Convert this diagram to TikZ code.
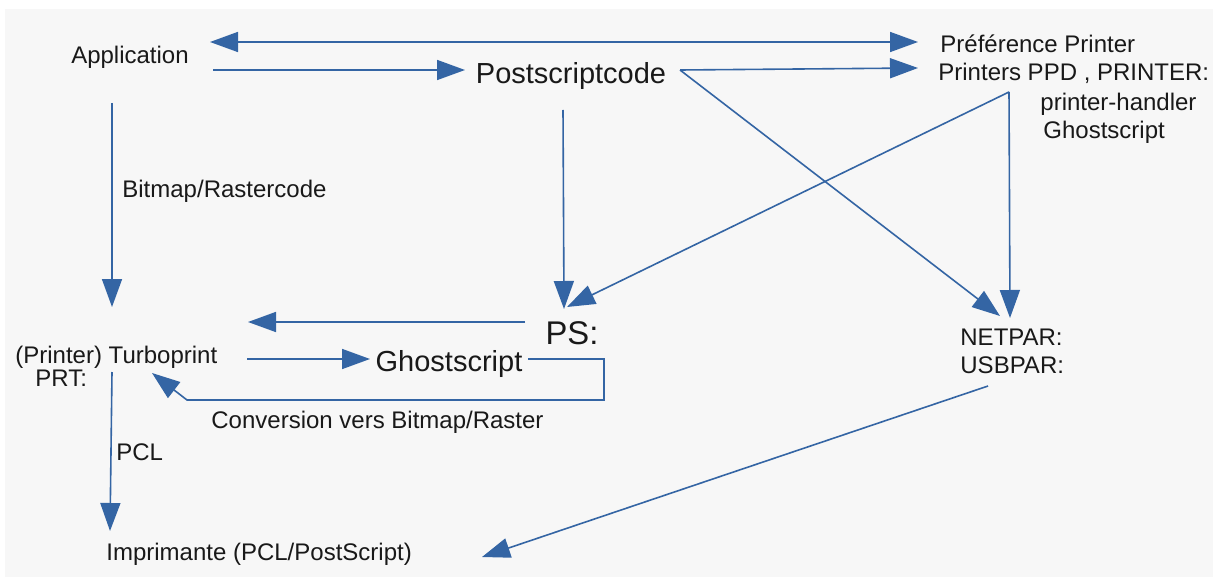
\documentclass[tikz,border=0pt]{standalone}
\usepackage{fontspec}
\setmainfont{Liberation Sans}
\usetikzlibrary{arrows.meta}
\definecolor{lnblue}{RGB}{52,101,164}
\definecolor{bggray}{RGB}{247,247,247}
\definecolor{txt}{RGB}{25,25,25}
\begin{document}
\begin{tikzpicture}[x=0.5pt,y=-0.5pt,
  lbl/.style={inner sep=0pt, text=txt, font=\fontsize{12}{14}\selectfont, text height=8.6pt, text depth=0pt},
  big/.style={lbl, font=\fontsize{14.5}{17}\selectfont, text height=10.4pt},
  bigger/.style={lbl, font=\fontsize{16.4}{19}\selectfont, text height=11.7pt},
  ln/.style={draw=lnblue, line width=0.8pt},
  arr/.style={ln, -{Triangle[length=14pt,width=10pt]}},
  darr/.style={ln, {Triangle[length=14pt,width=10pt]}-{Triangle[length=14pt,width=10pt]}}]
\fill[white] (0,0) rectangle (1213,577);
\fill[bggray] (5,9) rectangle (1213,577);
\useasboundingbox (0,0) rectangle (1213,577);

% nodes
\node[lbl] (app) at (130,55) {Application};
\node[lbl,anchor=west] (pref) at (940,44) {Préférence Printer};
\node[lbl,anchor=west] (ppd) at (938,72) {Printers PPD , PRINTER:};
\node[lbl,anchor=west] (hdl) at (1040,102) {printer-handler};
\node[lbl,anchor=west] (hdlgs) at (1043,130) {Ghostscript};
\node[big] (pscode) at (571,73) {Postscriptcode};
\node[lbl,anchor=west] (bmp) at (122,189) {Bitmap/Rastercode};
\node[bigger] (ps) at (572,333) {PS:};
\node[lbl,anchor=west] (turbo) at (15,355) {(Printer) Turboprint};
\node[lbl,anchor=west] (prt) at (35,378) {PRT:};
\node[big] (gs) at (449,361) {Ghostscript};
\node[lbl,anchor=west] (conv) at (211,420) {Conversion vers Bitmap/Raster};
\node[lbl,anchor=west] (pcl) at (116,452) {PCL};
\node[lbl,anchor=west] (impr) at (106,552) {Imprimante (PCL/PostScript)};
\node[lbl,anchor=west] (net) at (960,337) {NETPAR:};
\node[lbl,anchor=west] (usb) at (960,365) {USBPAR:};

% connectors
\draw[darr] ([shift={(80,-13)}]app.center) -- ([shift={(-22,-2)}]pref.west);
\draw[arr] ([shift={(83,15)}]app.center) -- ([shift={(-106,-3)}]pscode.center);
\draw[arr] ([shift={(109,-3)}]pscode.center) -- ([shift={(-20,-4)}]ppd.west);
\draw[arr] ([shift={(109,-3)}]pscode.center) -- ([shift={(40,-21)}]net.west);
\draw[arr] ([shift={(71,20)}]ppd.west) -- ([shift={(50,-19)}]net.west);
\draw[arr] ([shift={(71,20)}]ppd.west) -- ([shift={(-5,-26)}]ps.center);
\draw[arr] ([shift={(-8,37)}]pscode.center) -- ([shift={(-8,-24)}]ps.center);
\draw[arr] ([shift={(-18,48)}]app.center) -- ([shift={(97,-48)}]turbo.west);
\draw[arr] ([shift={(-47,-11)}]ps.center) -- ([shift={(233,-33)}]turbo.west);
\draw[arr] ([shift={(232,4)}]turbo.west) -- ([shift={(-79,-2)}]gs.center);
\draw[arr] ([shift={(79,-2)}]gs.center) -- ([shift={(155,-2)}]gs.center)
  -- ([shift={(155,39)}]gs.center) -- ([shift={(-262,39)}]gs.center)
  -- ([shift={(137,18)}]turbo.west);
\draw[arr] ([shift={(97,17)}]turbo.west) -- ([shift={(4,-21)}]impr.west);
\draw[arr] ([shift={(28,21)}]usb.west) -- ([shift={(376,5)}]impr.west);
\end{tikzpicture}
\end{document}
